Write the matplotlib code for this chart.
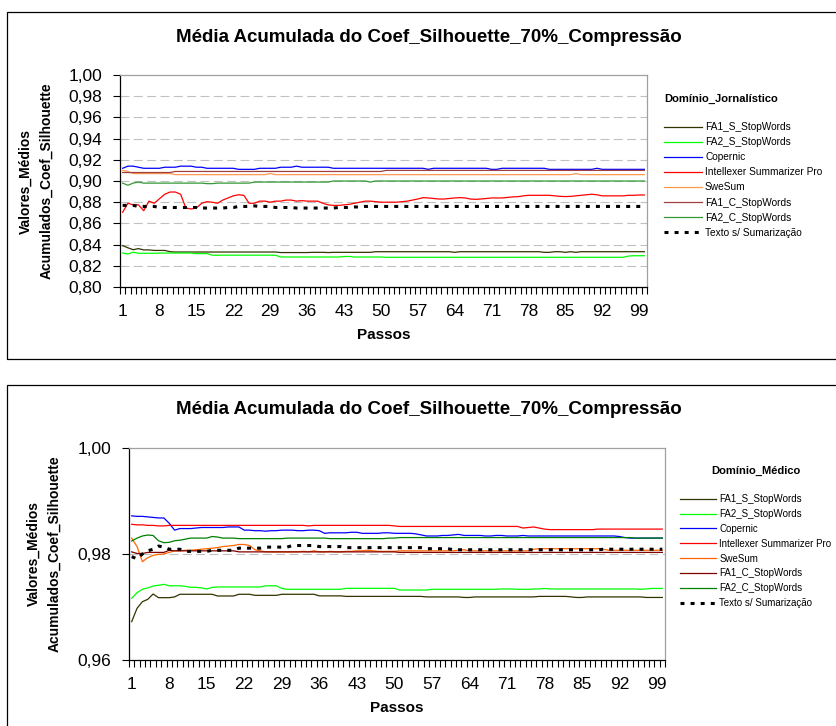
import matplotlib.pyplot as plt
from matplotlib.patches import Rectangle

plt.rcParams['font.family'] = ['Liberation Sans', 'DejaVu Sans']

# eixo x: passos 1..100
passos = list(range(1, 101))
x_labels = list(range(1, 101, 7))

nomes = ["FA1_S_StopWords", "FA2_S_StopWords", "Copernic", "Intellexer Summarizer Pro",
         "SweSum", "FA1_C_StopWords", "FA2_C_StopWords", "Texto s/ Sumarização"]

# ---------------- Domínio Jornalístico ----------------
jorn_fa1_s = [
    .839, .837, .8352, .8362, .835, .835, .8345, .8345, .8345, .8333,
    .833, .833, .833, .833, .833, .833, .833, .833, .833, .833,
    .833, .833, .833, .833, .833, .833, .833, .833, .833, .833,
    .8325, .8325, .8325, .8325, .8325, .8325, .8327, .8327, .8327, .8325,
    .8327, .8327, .8327, .8327, .8327, .8327, .8327, .8327, .8333, .8333,
    .8333, .8333, .8333, .8333, .8333, .8333, .8333, .8333, .8333, .8333,
    .8333, .8333, .8333, .8327, .8333, .8333, .8333, .8333, .8333, .8333,
    .8333, .8333, .8333, .8333, .8333, .8333, .8333, .8333, .8333, .8333,
    .8327, .8327, .8333, .8333, .8327, .8333, .8327, .8333, .8333, .8333,
    .8333, .8333, .8333, .8333, .8333, .8333, .8333, .8333, .8333, .8333]
jorn_fa2_s = [
    .8321, .8311, .8328, .8318, .8318, .8318, .8318, .832, .832, .832,
    .832, .832, .832, .832, .8315, .8315, .8315, .830, .830, .830,
    .830, .830, .830, .830, .830, .830, .830, .830, .830, .830,
    .8283, .8283, .8283, .8283, .8283, .8283, .8283, .8283, .8283, .8283,
    .8283, .8283, .8288, .8288, .8283, .8283, .8283, .8283, .8283, .8283,
    .828, .828, .828, .828, .828, .828, .828, .828, .828, .828,
    .828, .828, .828, .828, .828, .828, .828, .828, .828, .828,
    .828, .828, .828, .828, .828, .828, .828, .828, .828, .828,
    .828, .828, .828, .828, .828, .828, .828, .828, .828, .828,
    .828, .828, .828, .828, .828, .828, .8292, .8295, .8295, .8295]
jorn_copernic = [
    .912, .914, .914, .913, .912, .912, .912, .912, .913, .913,
    .913, .914, .914, .914, .913, .913, .912, .912, .912, .912,
    .912, .912, .911, .911, .911, .911, .912, .912, .912, .912,
    .913, .913, .913, .914, .913, .913, .913, .913, .913, .913,
    .912, .912, .912, .912, .912, .912, .912, .912, .912, .912,
    .912, .912, .912, .912, .912, .912, .912, .912, .911, .912,
    .912, .912, .912, .912, .912, .912, .912, .912, .912, .912,
    .911, .911, .912, .912, .912, .912, .912, .912, .912, .912,
    .912, .911, .911, .911, .911, .911, .911, .911, .911, .911,
    .912, .911, .911, .911, .911, .911, .911, .911, .911, .911]
jorn_intellexer = [
    .8705, .879, .8775, .8775, .872, .881, .879, .8833, .8875, .8896,
    .8896, .8875, .8745, .8736, .8745, .879, .8805, .880, .879, .882,
    .884, .886, .887, .8865, .879, .879, .881, .881, .880, .881,
    .881, .882, .882, .881, .8815, .881, .881, .881, .879, .8775,
    .877, .877, .8775, .878, .879, .880, .881, .881, .8805, .880,
    .880, .880, .880, .8805, .881, .882, .883, .8843, .884, .8835,
    .883, .883, .8835, .884, .8843, .884, .883, .8827, .883, .8835,
    .884, .884, .884, .8845, .885, .8852, .886, .8865, .8865, .8865,
    .8865, .8865, .886, .8855, .8853, .8855, .886, .8865, .887, .8875,
    .887, .886, .886, .886, .886, .886, .8865, .8865, .8868, .8868]
jorn_swesum = [
    .910, .909, .907, .907, .907, .907, .907, .907, .907, .907,
    .906, .906, .906, .906, .906, .906, .906, .906, .906, .906,
    .906, .906, .906, .906, .906, .906, .906, .906, .907, .906,
    .906, .906, .906, .906, .906, .906, .906, .906, .906, .906,
    .906, .906, .906, .906, .906, .906, .906, .906, .906, .906,
    .906, .906, .906, .906, .906, .906, .906, .906, .906, .906,
    .906, .906, .906, .906, .906, .906, .906, .906, .906, .906,
    .906, .906, .906, .906, .906, .906, .906, .906, .906, .906,
    .906, .906, .906, .906, .906, .906, .907, .906, .906, .906,
    .906, .906, .906, .906, .906, .906, .906, .906, .906, .906]
jorn_fa1_c = [
    .908, .908, .908, .908, .908, .908, .908, .908, .908, .908,
    .909, .909, .909, .909, .909, .909, .909, .909, .909, .909,
    .909, .909, .909, .909, .909, .909, .909, .909, .909, .909,
    .909, .909, .909, .909, .909, .909, .909, .909, .909, .909,
    .909, .909, .909, .909, .909, .909, .909, .909, .909, .909,
    .910, .910, .910, .910, .910, .910, .910, .910, .910, .910,
    .910, .910, .910, .910, .910, .910, .910, .910, .910, .910,
    .910, .910, .910, .910, .910, .910, .910, .910, .910, .910,
    .910, .910, .910, .910, .910, .910, .910, .910, .910, .910,
    .910, .910, .910, .910, .910, .910, .910, .910, .910, .910]
jorn_fa2_c = [
    .898, .896, .898, .899, .898, .898, .898, .898, .898, .898,
    .898, .898, .898, .898, .898, .898, .8975, .8975, .898, .898,
    .898, .898, .898, .898, .898, .899, .899, .899, .899, .899,
    .899, .899, .899, .899, .899, .899, .899, .899, .899, .899,
    .900, .900, .900, .900, .900, .900, .900, .899, .900, .900,
    .900, .900, .900, .900, .900, .900, .900, .900, .900, .900,
    .900, .900, .900, .900, .900, .900, .900, .900, .900, .900,
    .900, .900, .900, .900, .900, .900, .900, .900, .900, .900,
    .900, .900, .900, .900, .900, .900, .900, .900, .900, .900,
    .900, .900, .900, .900, .900, .900, .900, .900, .900, .900]
jorn_texto = [
    .877, .877, .877, .876, .876, .876, .876, .875, .875, .875,
    .875, .875, .875, .875, .875, .8745, .8745, .8745, .8745, .8745,
    .875, .875, .876, .876, .876, .8765, .876, .876, .876, .875,
    .875, .875, .875, .8745, .8745, .8745, .8745, .8745, .8745, .8745,
    .8745, .875, .875, .875, .8755, .8755, .876, .876, .876, .876,
    .876, .876, .876, .876, .876, .876, .876, .876, .876, .876,
    .876, .876, .876, .876, .876, .876, .876, .876, .876, .876,
    .876, .876, .876, .876, .876, .876, .876, .876, .876, .876,
    .876, .876, .876, .876, .876, .876, .876, .876, .876, .876,
    .876, .876, .876, .876, .876, .876, .876, .876, .876, .876]

# ---------------- Domínio Médico ----------------
med_fa1_s = [
    .96723, .96975, .9710, .97145, .97245, .97176, .97176, .97176, .9719, .9724,
    .9724, .9724, .9724, .9724, .9724, .9724, .97208, .97208, .97208, .97208,
    .9724, .9724, .9724, .9722, .9722, .9722, .9722, .9722, .9724, .9724,
    .9724, .9724, .9724, .9724, .9724, .9721, .9721, .9721, .9721, .9721,
    .9720, .9720, .9720, .9720, .9720, .9720, .9720, .9720, .9720, .9720,
    .9720, .9720, .9720, .9720, .9720, .9719, .9719, .9719, .9719, .9719,
    .9719, .9719, .9718, .9718, .9719, .9719, .9719, .9719, .9719, .9719,
    .9719, .9719, .9719, .9719, .9719, .9719, .9720, .9720, .9720, .9720,
    .9720, .9720, .9719, .9718, .9718, .9719, .9719, .9719, .9719, .9719,
    .9719, .9719, .9719, .9719, .9719, .9719, .9718, .9718, .9718, .9718]
med_fa2_s = [
    .97164, .9727, .97334, .9736, .97396, .9741, .97428, .9740, .9740, .9740,
    .9739, .97372, .97372, .9736, .9734, .9737, .97378, .97378, .97378, .97378,
    .97378, .97378, .97378, .97378, .97378, .9740, .9740, .9740, .9735, .97334,
    .97334, .97334, .97334, .97334, .97334, .97334, .97334, .97334, .97334, .97334,
    .97352, .97352, .97352, .97352, .97352, .97352, .97352, .97352, .97352, .97352,
    .9732, .9732, .9732, .9732, .9732, .9732, .97334, .97334, .97334, .97334,
    .97334, .97334, .97334, .97334, .97334, .97334, .97334, .97334, .97334, .9734,
    .9734, .9734, .97334, .97334, .97334, .9734, .9734, .9735, .9734, .9734,
    .9734, .9734, .9734, .9734, .9734, .9734, .9734, .9734, .9734, .9734,
    .9734, .9734, .9734, .9734, .9734, .97334, .9734, .9735, .9735, .9735]
med_copernic = [
    .9872, .9871, .9871, .9870, .9869, .9868, .9868, .9858, .9845, .9848,
    .9848, .9848, .9849, .9850, .9850, .9850, .9850, .9850, .9851, .9851,
    .9851, .9845, .9845, .9844, .9844, .9843, .9844, .9844, .9845, .9845,
    .9845, .9844, .9844, .9845, .9845, .9844, .9839, .9840, .9840, .9840,
    .9840, .9841, .9841, .9839, .9839, .9839, .9839, .9840, .9840, .9839,
    .9839, .9839, .9839, .9838, .9836, .9834, .9834, .9834, .9835, .9835,
    .9836, .9837, .9835, .9835, .9835, .9835, .9834, .9834, .9835, .9835,
    .9834, .9834, .9834, .9835, .9834, .9834, .9834, .9834, .9834, .9834,
    .9834, .9834, .9834, .9834, .9834, .9834, .9834, .9834, .9834, .9834,
    .9834, .9833, .9831, .9830, .9830, .9830, .9830, .9830, .9830, .9830]
med_intellexer = [
    .9856, .9855, .9855, .9854, .9854, .9853, .9853, .9854, .9854, .9854,
    .9854, .9854, .9854, .9854, .9854, .9854, .9854, .9854, .9854, .9854,
    .9854, .9854, .9854, .9854, .9854, .9854, .9854, .9854, .9854, .9854,
    .9854, .9854, .9854, .9853, .9854, .9854, .9854, .9854, .9854, .9854,
    .9854, .9854, .9854, .9854, .9854, .9854, .9854, .9854, .9854, .9853,
    .9852, .9852, .9852, .9852, .9852, .9852, .9852, .9852, .9852, .9852,
    .9852, .9852, .9852, .9852, .9852, .9852, .9852, .9852, .9852, .9852,
    .9852, .9852, .9852, .9849, .9850, .9851, .9849, .9847, .9846, .9846,
    .9846, .9846, .9846, .9846, .9846, .9846, .9846, .9847, .9847, .9847,
    .9847, .9847, .9847, .9847, .9847, .9847, .9847, .9847, .9847, .9847]
med_swesum = [
    .9830, .9814, .97855, .9793, .97975, .97994, .9800, .9803, .9806, .9806,
    .9807, .9807, .9808, .9809, .9810, .9811, .9812, .9814, .9815, .9816,
    .9818, .9818, .9816, .9808, .9806, .9804, .9804, .9804, .9804, .9804,
    .9804, .9804, .9805, .9804, .9806, .9804, .9804, .9805, .9804, .9804,
    .9805, .9805, .9806, .9806, .9807, .9806, .9805, .9805, .9805, .9805,
    .9806, .9806, .9806, .9806, .9806, .9806, .9806, .9806, .9806, .9806,
    .9806, .9807, .9808, .9806, .9806, .9806, .9806, .9806, .9806, .9806,
    .9806, .9806, .9806, .9806, .9806, .9809, .9810, .9810, .9810, .9810,
    .9810, .9810, .9810, .9810, .9810, .9810, .9810, .9810, .9809, .9807,
    .9807, .9807, .9807, .9807, .9807, .9807, .9807, .9807, .9807, .9807]
med_fa1_c = [
    .9804, .9801, .9801, .9803, .9803, .9803, .9803, .9807, .9806, .9806,
    .9806, .9806, .9806, .9806, .9806, .9806, .9806, .9806, .9806, .9806,
    .9804, .9804, .9804, .9804, .9804, .9804, .9804, .9804, .9804, .9804,
    .9804, .9804, .9804, .9804, .9804, .9804, .9804, .9804, .9804, .9804,
    .9804, .9804, .9804, .9804, .9804, .9804, .9804, .9804, .9804, .9804,
    .9803, .9803, .9803, .9803, .9803, .9803, .9803, .9803, .9803, .9803,
    .9803, .9803, .9803, .9803, .9803, .9803, .9803, .9803, .9803, .9803,
    .9803, .9803, .9803, .9803, .9803, .9803, .9803, .9803, .9803, .9803,
    .9803, .9803, .9803, .9803, .9803, .9803, .9803, .9803, .9803, .9803,
    .9803, .9803, .9803, .9803, .9803, .9803, .9803, .9803, .9803, .9803]
med_fa2_c = [
    .98245, .9830, .9834, .98358, .9835, .9825, .98213, .9822, .9825, .9826,
    .9828, .9830, .9830, .9830, .9830, .9833, .9832, .9830, .9830, .9830,
    .9829, .9829, .9829, .9829, .9829, .9829, .9829, .9829, .9829, .9830,
    .9830, .9830, .9830, .9830, .9830, .9830, .9830, .9829, .9829, .9829,
    .9829, .9829, .9829, .9829, .9829, .9829, .9829, .9829, .9830, .9830,
    .9831, .9831, .9831, .9831, .9831, .9831, .9831, .9831, .9831, .9831,
    .9831, .9831, .9831, .9831, .9831, .9831, .9831, .9831, .9831, .9831,
    .9831, .9831, .9831, .9831, .9831, .9831, .9831, .9831, .9831, .9831,
    .9831, .9831, .9831, .9831, .9831, .9831, .9831, .9831, .9831, .9831,
    .9831, .9831, .9831, .9831, .9830, .9830, .9830, .9830, .9830, .9830]
med_texto = [
    .9795, .9791, .9800, .9806, .9809, .9815, .9813, .9809, .9809, .9809,
    .9805, .9805, .9805, .9805, .9805, .9807, .9807, .9807, .9807, .9807,
    .9811, .9811, .9811, .9811, .9811, .9813, .9813, .9813, .9813, .9813,
    .9816, .9816, .9816, .9816, .9816, .9814, .9814, .9814, .9814, .9814,
    .9812, .9812, .9812, .9812, .9812, .9812, .9812, .9812, .9812, .9812,
    .9812, .9812, .9812, .9812, .9812, .9810, .9810, .9810, .9810, .9810,
    .9808, .9808, .9808, .9808, .9808, .9808, .9808, .9808, .9808, .9808,
    .9808, .9808, .9808, .9808, .9808, .9808, .9808, .9808, .9808, .9808,
    .9808, .9808, .9808, .9808, .9808, .9808, .9808, .9808, .9809, .9809,
    .9809, .9809, .9809, .9809, .9809, .9809, .9809, .9809, .9809, .9809]

cores_jorn = ["#333300", "#00ff00", "#0000ff", "#ff0000", "#ff9950", "#a04040", "#339933", "black"]
cores_med = ["#333300", "#00ff00", "#0000ff", "#ff0000", "#ff6600", "#800000", "#008000", "black"]

W, H = 836, 726
fig = plt.figure(figsize=(W / 100, H / 100), dpi=100)

# molduras dos dois graficos
fig.add_artist(Rectangle((7 / W, 1 - 359 / H), 1.0, 347 / H, transform=fig.transFigure,
                         fill=False, ec="black", lw=0.9))
fig.add_artist(Rectangle((7 / W, -0.02), 1.0, 1 - 385 / H + 0.02, transform=fig.transFigure,
                         fill=False, ec="black", lw=0.9))


def fmt(v):
    return f"{v:.2f}".replace(".", ",")


def painel(ax, series, cores, ylim, yticks, grade, titulo_leg, pos_leg, alinhar, ylab_x, titulo_y,
           fs_leg):
    for s, c, n in zip(series, cores, nomes):
        if n.startswith("Texto"):
            ax.plot(passos, s, color=c, lw=2.2, ls=(0, (1.3, 2.0)), label=n)
        else:
            ax.plot(passos, s, color=c, lw=0.9, label=n)
    for g in grade:
        ax.axhline(g, color="#c0c0c0", lw=0.8, ls=(0, (8, 4)), zorder=0)
    ax.set_xlim(0.5, 100.5)
    ax.set_ylim(*ylim)
    ax.set_yticks(yticks)
    ax.set_yticklabels([fmt(v) for v in yticks], fontsize=12.5)
    ax.set_xticks(x_labels)
    ax.set_xticklabels([str(v) for v in x_labels], fontsize=12.5)
    ax.set_xticks([i + 0.5 for i in range(0, 101)], minor=True)
    ax.tick_params(axis="x", which="major", length=0, pad=12)
    ax.tick_params(axis="x", which="minor", length=5, width=0.8, direction="out")
    ax.tick_params(axis="y", length=5, width=0.8, direction="out", pad=8)
    ax.spines["left"].set_color("black")
    ax.spines["bottom"].set_color("black")
    ax.spines["top"].set_color("#a0a0a0")
    ax.spines["right"].set_color("#a0a0a0")
    for sp in ax.spines.values():
        sp.set_linewidth(0.9)
    ax.set_xlabel("Passos", fontsize=11, fontweight="bold", labelpad=7)
    pos = ax.get_position()
    fig.text(ylab_x, (pos.y0 + pos.y1) / 2, "Valores_Médios\nAcumulados_Coef_Silhouette",
             rotation=90, ha="center", va="center", fontsize=10, fontweight="bold",
             linespacing=1.7, multialignment="center")
    fig.text(429 / W, titulo_y, "Média Acumulada do Coef_Silhouette_70%_Compressão",
             ha="center", va="center", fontsize=13.5, fontweight="bold")
    leg = ax.legend(loc="upper left", bbox_to_anchor=pos_leg, bbox_transform=fig.transFigure,
                    frameon=False, fontsize=fs_leg, handlelength=3.7, handletextpad=0.35,
                    labelspacing=0.5, borderaxespad=0, borderpad=0,
                    title=titulo_leg, title_fontproperties={"size": 8, "weight": "bold"})
    leg._legend_box.align = alinhar
    leg._legend_box.sep = 13


ax1 = fig.add_axes([120 / W, 1 - 287 / H, 527 / W, 212 / H])
painel(ax1, [jorn_fa1_s, jorn_fa2_s, jorn_copernic, jorn_intellexer, jorn_swesum,
             jorn_fa1_c, jorn_fa2_c, jorn_texto], cores_jorn,
       (0.80, 1.00), [0.80 + 0.02 * i for i in range(11)], [0.82 + 0.02 * i for i in range(9)],
       "Domínio_Jornalístico", (664 / W, 1 - 94 / H), "left", 36 / W, 1 - 37 / H, 7.3)

ax2 = fig.add_axes([129 / W, 1 - 660 / H, 536 / W, 212 / H])
painel(ax2, [med_fa1_s, med_fa2_s, med_copernic, med_intellexer, med_swesum,
             med_fa1_c, med_fa2_c, med_texto], cores_med,
       (0.96, 1.00), [0.96, 0.98, 1.00], [0.98],
       "Domínio_Médico", (680 / W, 1 - 466 / H), "center", 44 / W, 1 - 409 / H, 7.0)

fig.savefig("out.png", dpi=100)
